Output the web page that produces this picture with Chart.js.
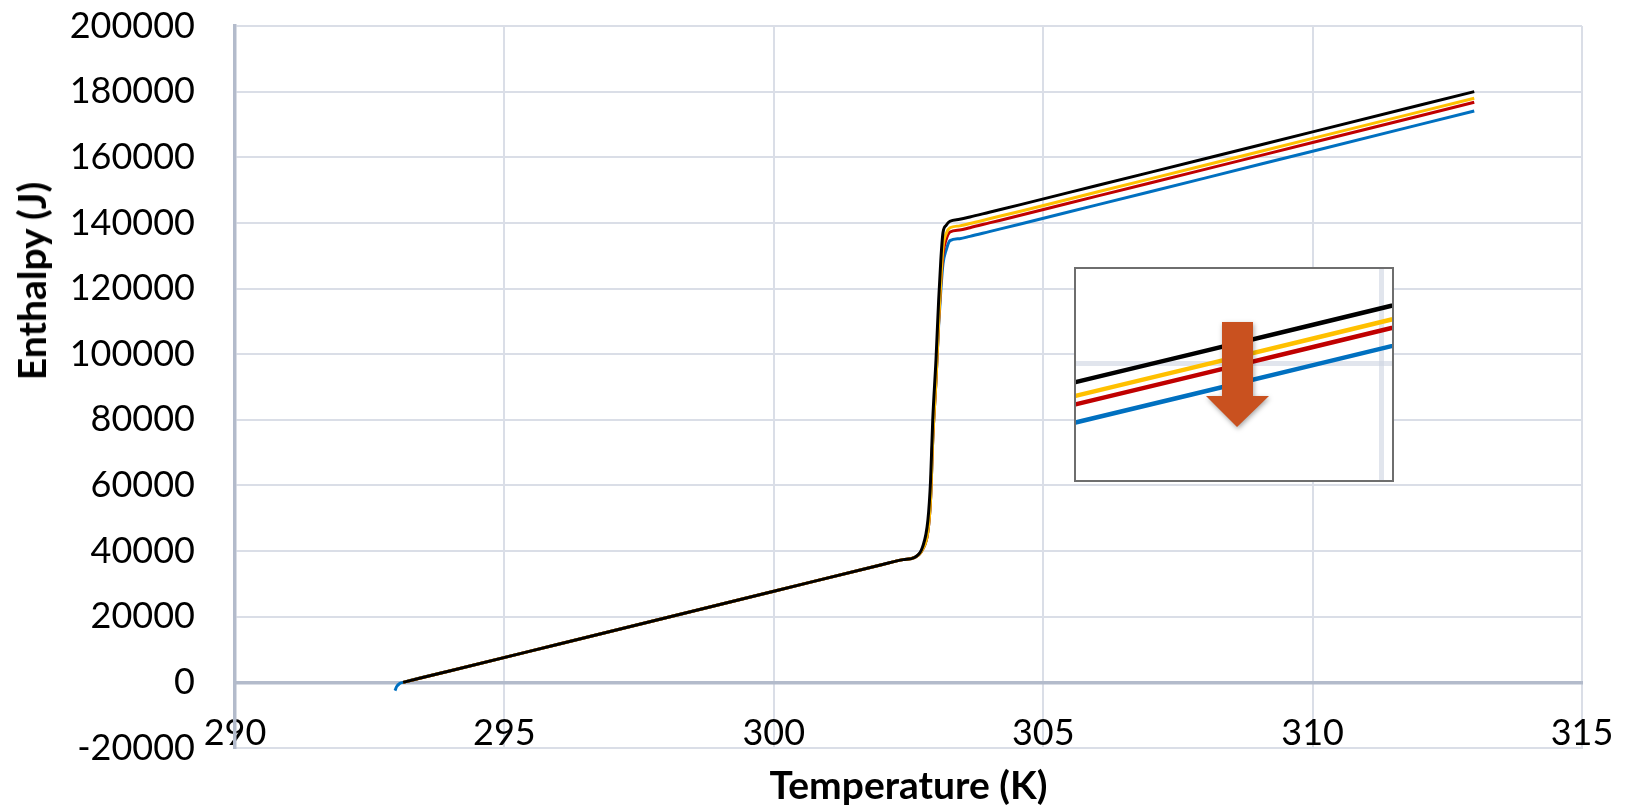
<!DOCTYPE html>
<html>
<head>
<meta charset="utf-8">
<script src="https://cdn.jsdelivr.net/npm/chart.js@4.4.1/dist/chart.umd.min.js"></script>
<style>
  html, body { margin: 0; padding: 0; background: #fff; }
  #wrap { position: relative; width: 1628px; height: 810px; }
  #ytitle {
    position: absolute; left: 31px; top: 281px;
    transform: translate(-50%, -50%) rotate(-90deg);
    font: bold 39px Lato; white-space: nowrap; color: #000;
  }
  #inset {
    position: absolute; left: 1074px; top: 267px;
    width: 320px; height: 215px; box-sizing: border-box;
    border: 2px solid #6e6e6e; background: #fff;
  }
  #inset canvas { display: block; }
</style>
</head>
<body>
<div id="wrap">
  <canvas id="enthalpy-chart" width="1628" height="810"></canvas>
  <div id="ytitle">Enthalpy (J)</div>
  <div id="inset"><canvas id="inset-chart" width="316" height="211"></canvas></div>
</div>
<script>
// temperature points (K), shared by all series
const tempK = [292.97, 293.0, 293.05, 293.12, 294, 296, 298, 300, 302, 302.4, 302.62, 302.76, 302.86, 302.91, 302.95,
  303.01, 303.06, 303.1, 303.14, 303.2, 303.27, 303.45, 303.64, 304, 304.56, 306, 308, 310, 313];

// enthalpy (J)
const blackH = [null, null, null, 0, 3550, 11620, 19690, 27760, 35830, 37400, 38150, 41200, 49400, 61600, 79900,
  98200, 116500, 128700, 137000, 139300, 140500, 141100, 141800, 143250, 145500, 151400, 159550, 167750, 180000];
const yellowH = [null, null, null, 0, 3550, 11620, 19690, 27760, 35830, 37400, 38100, 40500, 46000, 56000, 74000,
  92000, 110000, 122500, 132500, 136800, 138500, 139100, 139800, 141250, 143500, 149400, 157550, 165750, 178000];
const redH = [null, null, null, 0, 3550, 11620, 19690, 27760, 35830, 37400, 38100, 40500, 46000, 56000, 74000,
  92000, 110000, 122000, 130500, 135000, 137250, 137850, 138550, 140000, 142250, 148150, 156300, 164500, 176750];
const blueH = [-2500, -1300, -400, 0, 3550, 11620, 19690, 27760, 35830, 37400, 38100, 40500, 46000, 56000, 74000,
  92000, 109000, 119500, 127500, 131800, 134600, 135200, 135900, 137350, 139600, 145500, 153650, 161850, 174100];

const xTicks = [290, 295, 300, 305, 310, 315];
const yTicks = [-20000, 0, 20000, 40000, 60000, 80000, 100000, 120000, 140000, 160000, 180000, 200000];

// zoomed window shown in the inset
const insetX = [307, 309.73];
const insetY = [141140, 172010];
const insetGridX = [309.64];
const insetGridY = [158190];

const seriesColors = ['#000000', '#ffc000', '#c00000', '#0070c0'];
const seriesValues = [blackH, yellowH, redH, blueH];

function makeDatasets(width) {
  return seriesValues.map((vals, i) => ({
    data: tempK.map((t, j) => ({ x: t, y: vals[j] })),
    borderColor: seriesColors[i],
    borderWidth: width,
    pointRadius: 0,
    fill: false,
    cubicInterpolationMode: 'monotone',
  }));
}

const gridColor = '#dadee7';
const axisColor = '#b3bbcb';
const tickFont = { family: 'Lato', size: 36 };
const plain = v => String(v);

new Chart(document.getElementById('enthalpy-chart').getContext('2d'), {
  type: 'line',
  data: { datasets: makeDatasets(3) },
  options: {
    responsive: false,
    animation: false,
    layout: { padding: { left: 0, right: 46, top: 26, bottom: 0 } },
    plugins: { legend: { display: false }, tooltip: { enabled: false } },
    scales: {
      x: {
        type: 'linear',
        position: 'bottom',
        min: 290,
        max: 315,
        afterBuildTicks: s => { s.ticks = xTicks.map(v => ({ value: v })); },
        afterFit: s => { s.height = 62; },
        ticks: { display: false },
        grid: { color: gridColor, lineWidth: 2, drawTicks: false },
        border: { color: gridColor, width: 2 },
        title: {
          display: true,
          text: 'Temperature (K)',
          color: '#000',
          font: { family: 'Lato', size: 39, weight: 'bold', lineHeight: 1.1 },
          padding: { top: 0, bottom: 2 },
        },
      },
      // axis line and labels crossing at y = 0
      x2: {
        type: 'linear',
        axis: 'x',
        position: { y: 0 },
        min: 290,
        max: 315,
        afterBuildTicks: s => { s.ticks = xTicks.map(v => ({ value: v })); },
        afterFit: s => { s.height = 0; },
        ticks: { color: '#000', font: tickFont, padding: 0, maxRotation: 0, callback: plain },
        grid: { drawOnChartArea: false, drawTicks: true, tickLength: 29, tickColor: 'rgba(0,0,0,0)' },
        border: { color: axisColor, width: 3.5 },
      },
      y: {
        type: 'linear',
        min: -20000,
        max: 200000,
        afterBuildTicks: s => { s.ticks = yTicks.map(v => ({ value: v })); },
        afterFit: s => { s.width = 235; },
        ticks: { color: '#000', font: tickFont, padding: 0, callback: plain },
        grid: { color: gridColor, lineWidth: 2, drawTicks: true, tickLength: 40, tickColor: 'rgba(0,0,0,0)' },
        border: { color: axisColor, width: 3.5 },
      },
    },
  },
});

// orange arrow pointing down in the inset
const arrowPlugin = {
  id: 'arrow',
  afterDatasetsDraw(chart) {
    const ctx = chart.ctx;
    ctx.save();
    ctx.shadowColor = 'rgba(0,0,0,0.35)';
    ctx.shadowBlur = 5;
    ctx.shadowOffsetX = 1;
    ctx.shadowOffsetY = 2;
    ctx.fillStyle = '#c9511f';
    ctx.beginPath();
    ctx.moveTo(146, 53);
    ctx.lineTo(177, 53);
    ctx.lineTo(177, 127);
    ctx.lineTo(193, 127);
    ctx.lineTo(161, 158);
    ctx.lineTo(130, 127);
    ctx.lineTo(146, 127);
    ctx.closePath();
    ctx.fill();
    ctx.restore();
  },
};

new Chart(document.getElementById('inset-chart').getContext('2d'), {
  type: 'line',
  data: { datasets: makeDatasets(4.5) },
  options: {
    responsive: false,
    animation: false,
    layout: { padding: 0 },
    plugins: { legend: { display: false }, tooltip: { enabled: false } },
    scales: {
      x: {
        type: 'linear',
        min: insetX[0],
        max: insetX[1],
        afterBuildTicks: s => { s.ticks = insetGridX.map(v => ({ value: v })); },
        afterFit: s => { s.height = 0; },
        ticks: { display: false },
        grid: { color: 'rgba(205,211,225,0.6)', lineWidth: 5, drawTicks: false },
        border: { display: false },
      },
      y: {
        type: 'linear',
        min: insetY[0],
        max: insetY[1],
        afterBuildTicks: s => { s.ticks = insetGridY.map(v => ({ value: v })); },
        afterFit: s => { s.width = 0; },
        ticks: { display: false },
        grid: { color: 'rgba(205,211,225,0.6)', lineWidth: 5, drawTicks: false },
        border: { display: false },
      },
    },
  },
  plugins: [arrowPlugin],
});
</script>
</body>
</html>
